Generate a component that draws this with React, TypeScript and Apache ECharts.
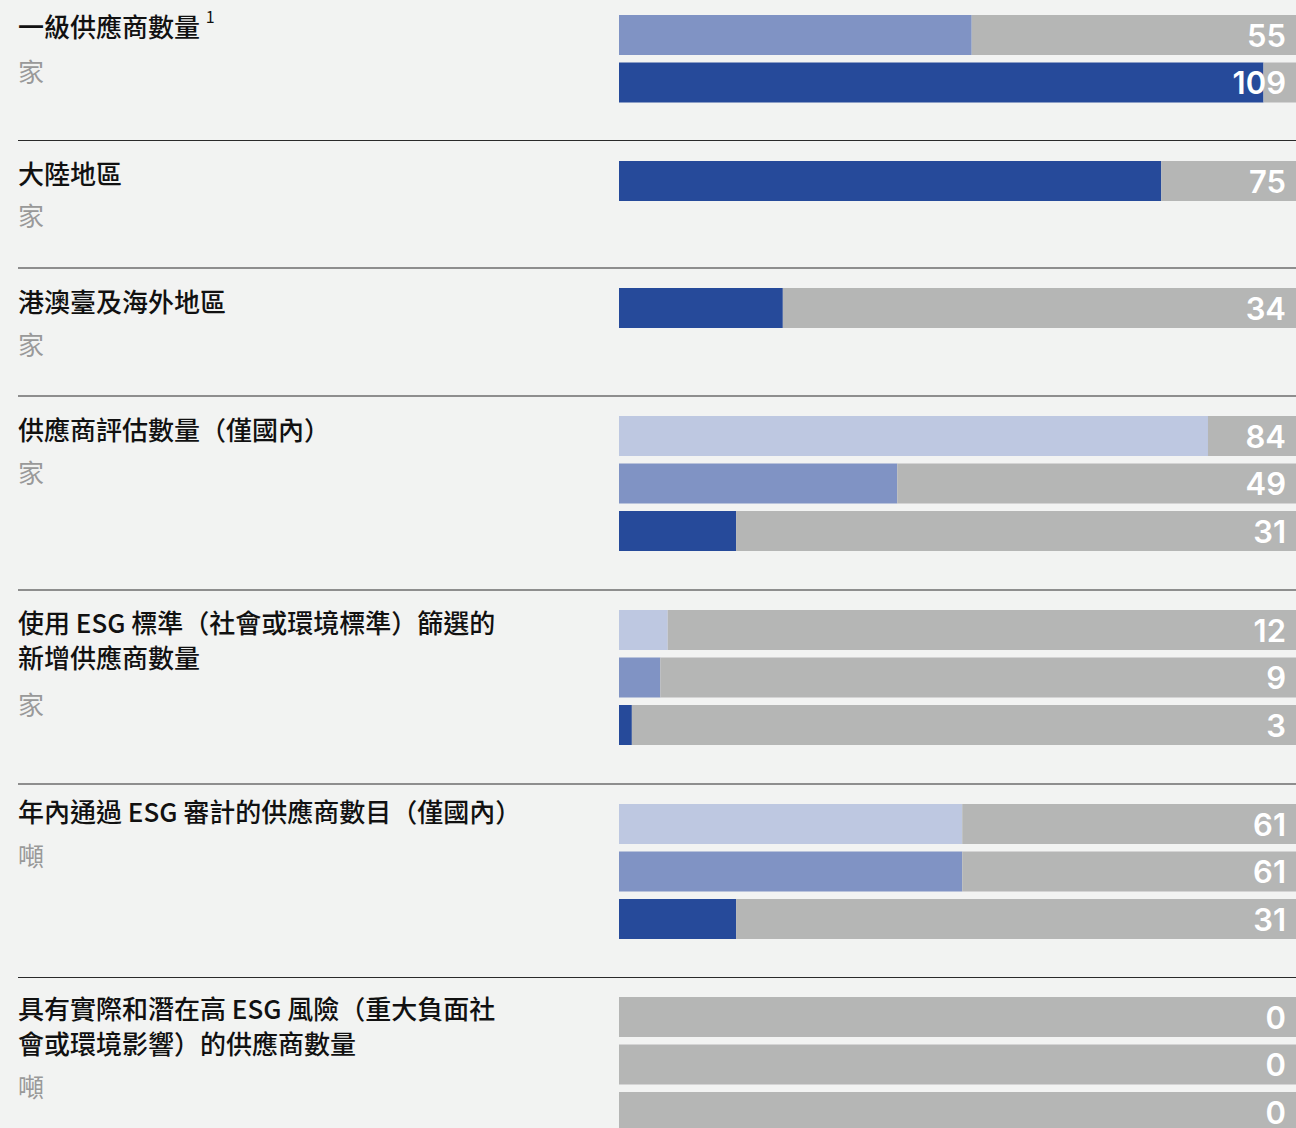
import React, { useEffect, useRef } from 'react';
import * as echarts from 'echarts';

// ---- data ----
const groupTitles = [
  '一級供應商數量 {sup|1}',
  '大陸地區',
  '港澳臺及海外地區',
  '供應商評估數量（僅國內）',
  '使用 ESG 標準（社會或環境標準）篩選的\n新增供應商數量',
  '年內通過 ESG 審計的供應商數目（僅國內）',
  '具有實際和潛在高 ESG 風險（重大負面社\n會或環境影響）的供應商數量',
];
const groupUnits = ['家', '家', '家', '家', '家', '噸', '噸'];

const tier1Suppliers = [55, 109];
const mainlandSuppliers = [75];
const overseasSuppliers = [34];
const assessedSuppliers = [84, 49, 31];
const esgScreenedSuppliers = [12, 9, 3];
const esgAuditedSuppliers = [61, 61, 31];
const highRiskSuppliers = [0, 0, 0];

// drawn length of each coloured bar, as a share of the full track
const tier1Fill = [0.521, 0.952];
const mainlandFill = [0.801];
const overseasFill = [0.242];
const assessedFill = [0.87, 0.411, 0.173];
const esgScreenedFill = [0.072, 0.061, 0.019];
const esgAuditedFill = [0.507, 0.507, 0.173];
const highRiskFill = [0, 0, 0];

// period of each bar (determines its shade)
const tier1Periods = ['P2', 'P3'];
const mainlandPeriods = ['P3'];
const overseasPeriods = ['P3'];
const assessedPeriods = ['P1', 'P2', 'P3'];
const esgScreenedPeriods = ['P1', 'P2', 'P3'];
const esgAuditedPeriods = ['P1', 'P2', 'P3'];
const highRiskPeriods = ['P1', 'P2', 'P3'];

const groupValues = [tier1Suppliers, mainlandSuppliers, overseasSuppliers, assessedSuppliers, esgScreenedSuppliers, esgAuditedSuppliers, highRiskSuppliers];
const groupFills = [tier1Fill, mainlandFill, overseasFill, assessedFill, esgScreenedFill, esgAuditedFill, highRiskFill];
const groupPeriods = [tier1Periods, mainlandPeriods, overseasPeriods, assessedPeriods, esgScreenedPeriods, esgAuditedPeriods, highRiskPeriods];

// ---- styling / layout ----
const periodColor: Record<string, string> = { P1: '#bec8e1', P2: '#8093c4', P3: '#264a9a' };
const TRACK = '#b5b6b5';
const BG = '#f2f3f2';
const firstBarCenter = [35, 181, 308, 436, 630, 824, 1017];
const titleCenter = [25.5, 172, 300, 428, 621.5, 810.5, 1007];
const unitCenter = [70, 214.5, 343, 471, 703, 854, 1085];
const separators = [140.5, 268, 396, 590, 784, 977.5];
const PITCH = 47.5;
const CJK = '"Noto Sans CJK TC", "Noto Sans CJK SC", sans-serif';

export default function App() {
  const ref = useRef<HTMLDivElement>(null);
  useEffect(() => {
    if (!ref.current) return;
    const chart = echarts.init(ref.current, undefined, { renderer: 'svg' });
    const grids: any[] = [];
    const xAxes: any[] = [];
    const yAxes: any[] = [];
    const series: any[] = [];
    groupValues.forEach((vals, i) => {
      const n = vals.length;
      grids.push({ left: 619, right: 0, top: firstBarCenter[i] - PITCH / 2, height: PITCH * n });
      xAxes.push({ gridIndex: i, type: 'value', min: 0, max: 1, show: false });
      yAxes.push({ gridIndex: i, type: 'category', data: groupPeriods[i], inverse: true, show: false });
      series.push({
        type: 'bar', xAxisIndex: i, yAxisIndex: i, stack: 'g' + i, barWidth: 40, silent: true,
        data: groupFills[i].map((f, k) => ({ value: f, itemStyle: { color: periodColor[groupPeriods[i][k]] } })),
      });
      series.push({
        type: 'bar', xAxisIndex: i, yAxisIndex: i, stack: 'g' + i, barWidth: 40, silent: true,
        itemStyle: { color: TRACK },
        data: groupFills[i].map((f) => 1 - f),
        label: {
          show: true, position: 'insideRight', distance: 10, color: '#ffffff',
          fontFamily: 'Inter, "Open Sans", sans-serif', fontWeight: 600, fontSize: 31,
          formatter: (p: any) => String(vals[p.dataIndex]),
        },
      });
    });

    const graphics: any[] = [];
    groupTitles.forEach((t, i) => {
      graphics.push({
        type: 'text', x: 18, y: titleCenter[i] - 17.5, silent: true,
        style: {
          text: t, fill: '#111111', fontFamily: CJK, fontWeight: 500, fontSize: 26, lineHeight: 35,
          verticalAlign: 'top', align: 'left',
          rich: { sup: { fontSize: 16, fontFamily: CJK, fill: '#111111', verticalAlign: 'top', lineHeight: 35, padding: [0, 0, 12, 0] } },
        },
      });
      graphics.push({
        type: 'text', x: 18, y: unitCenter[i], silent: true,
        style: { text: groupUnits[i], fill: '#999999', fontFamily: CJK, fontSize: 26, verticalAlign: 'middle', align: 'left' },
      });
    });
    separators.forEach((y) => {
      graphics.push({ type: 'line', silent: true, shape: { x1: 18, y1: y, x2: 1296, y2: y }, style: { stroke: '#2a2a2a', lineWidth: 1.2 } });
    });

    chart.setOption({
      animation: false,
      backgroundColor: BG,
      grid: grids,
      xAxis: xAxes,
      yAxis: yAxes,
      series,
      graphic: graphics,
    });
    return () => chart.dispose();
  }, []);
  return <div ref={ref} style={{ position: 'fixed', left: 0, top: 0, width: 1296, height: 1180, background: BG }} />;
}
